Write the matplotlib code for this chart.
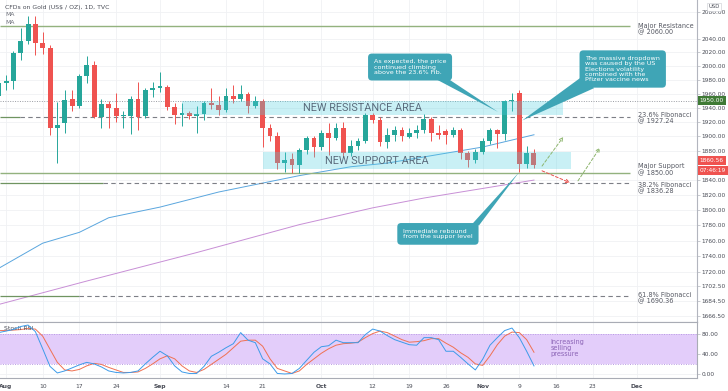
import numpy as np
import pandas as pd
import matplotlib
matplotlib.use("Agg")
import matplotlib.pyplot as plt
from matplotlib.ticker import FixedLocator, FixedFormatter, NullLocator
from matplotlib.patches import Rectangle, Polygon
from matplotlib.transforms import blended_transform_factory

# daily candles, Jul 31 2020 -> Nov 11 2020 (weekdays)
opens = [1957, 1975, 1978, 2019, 2037, 2062, 2034, 2027, 1911, 1918, 1952, 1943, 1985, 2001, 1927,
         1945, 1940, 1928, 1928, 1953, 1928, 1966, 1968, 1970, 1941, 1929, 1932, 1928, 1931, 1946,
         1944, 1937, 1956, 1953, 1959, 1943, 1950, 1912, 1900, 1863, 1868, 1861, 1881, 1897, 1885,
         1904, 1897, 1912, 1877, 1887, 1893, 1930, 1922, 1892, 1902, 1908, 1899, 1905, 1908, 1924,
         1904, 1907, 1901, 1908, 1877, 1867, 1878, 1894, 1908, 1903, 1949, 1961, 1862, 1877]
highs = [1983, 1987, 2022, 2056, 2075, 2075, 2050, 2031, 1948, 1966, 1966, 1988, 2015, 2007, 1953,
         1949, 1961, 1935, 1957, 1977, 1968, 1977, 1992, 1973, 1946, 1946, 1936, 1943, 1949, 1968,
         1956, 1968, 1972, 1973, 1962, 1957, 1953, 1917, 1906, 1878, 1877, 1883, 1900, 1900, 1909,
         1918, 1919, 1920, 1895, 1897, 1933, 1933, 1927, 1912, 1914, 1913, 1912, 1915, 1931, 1927,
         1916, 1910, 1913, 1911, 1880, 1882, 1897, 1911, 1910, 1951, 1961, 1965, 1886, 1882]
lows = [1947, 1966, 1967, 2009, 2032, 2016, 2018, 1902, 1863, 1905, 1936, 1940, 1975, 1925, 1912,
        1912, 1920, 1912, 1903, 1909, 1925, 1955, 1962, 1937, 1917, 1914, 1924, 1904, 1922, 1938,
        1930, 1934, 1947, 1950, 1932, 1940, 1885, 1893, 1855, 1851, 1849, 1849, 1875, 1872, 1881,
        1874, 1895, 1873, 1873, 1881, 1891, 1918, 1887, 1883, 1893, 1894, 1897, 1898, 1904, 1893,
        1896, 1889, 1899, 1869, 1858, 1863, 1876, 1889, 1883, 1895, 1935, 1851, 1856, 1857]
closes = [1975, 1978, 2019, 2037, 2062, 2034, 2027, 1911, 1916, 1951, 1942, 1985, 2001, 1927, 1945,
          1939, 1928, 1930, 1953, 1927, 1966, 1968, 1971, 1941, 1929, 1932, 1928, 1931, 1946, 1944,
          1937, 1956, 1953, 1959, 1943, 1950, 1912, 1900, 1863, 1867, 1861, 1881, 1897, 1885, 1904,
          1897, 1912, 1877, 1887, 1893, 1930, 1922, 1892, 1902, 1908, 1900, 1905, 1908, 1924, 1904,
          1902, 1901, 1908, 1877, 1867, 1878, 1894, 1908, 1903, 1949, 1951, 1862, 1877, 1860.56]

# Stoch RSI (K blue, D orange) for the same bars
stoch_k = [82, 85, 88, 94, 97, 84, 50, 15, 2, 6, 12, 18, 23, 20, 14, 6, 3, 2, 3, 6, 20, 33, 45, 36,
           16, 4, 1, 1, 15, 35, 43, 52, 60, 82, 67, 62, 30, 20, 1, 0, 1, 11, 27, 43, 54, 56, 67, 62,
           62, 62, 78, 89, 85, 76, 68, 63, 58, 57, 72, 72, 68, 45, 45, 33, 20, 8, 29, 57, 72, 86, 91,
           72, 45, 16]
stoch_d = [86, 86, 87, 88, 90, 89, 75, 49, 23, 8, 6, 9, 16, 21, 19, 13, 8, 3, 3, 4, 11, 20, 30, 36,
           30, 16, 6, 3, 9, 19, 29, 39, 52, 65, 67, 67, 55, 30, 11, 6, 1, 6, 19, 30, 41, 50, 57, 60,
           61, 63, 72, 80, 85, 82, 75, 68, 63, 64, 66, 70, 70, 61, 53, 42, 33, 20, 17, 36, 58, 75,
           83, 82, 68, 43]

# moving averages
ma_fast_dates = ["2020-07-31", "2020-08-10", "2020-08-17", "2020-08-21", "2020-09-01", "2020-09-11",
                 "2020-09-28", "2020-10-07", "2020-10-14", "2020-11-02", "2020-11-11"]
ma_fast_vals = [1725, 1757, 1771, 1790, 1804, 1824, 1846, 1858, 1863, 1885, 1902]
ma_slow_dates = ["2020-07-31", "2020-08-18", "2020-09-08", "2020-09-28", "2020-10-12", "2020-10-21",
                 "2020-11-11"]
ma_slow_vals = [1680, 1709, 1745, 1781, 1803, 1816, 1840]

level_vals = [2060.00, 1927.24, 1850.00, 1836.28, 1690.36]
level_names = ["Major Resistance\n@ 2060.00", "23.6% Fibonacci\n@ 1927.24", "Major Support\n@ 1850.00",
               "38.2% Fibonacci\n@ 1836.28", "61.8% Fibonacci\n@ 1690.36"]

price_ticks = [2080, 2040, 2020, 2000, 1980, 1960, 1940, 1920, 1900, 1880, 1840, 1820, 1800, 1780,
               1760, 1740, 1720, 1702.5, 1684.5, 1666.5]
tick_dates = ["2020-08-03", "2020-08-10", "2020-08-17", "2020-08-24", "2020-09-01", "2020-09-14",
              "2020-09-21", "2020-10-01", "2020-10-12", "2020-10-19", "2020-10-26", "2020-11-02",
              "2020-11-09", "2020-11-16", "2020-11-23", "2020-12-01"]
tick_labels = ["Aug", "10", "17", "24", "Sep", "14", "21", "Oct", "12", "19", "26", "Nov", "9", "16",
               "23", "Dec"]

GREEN = "#26a69a"
RED = "#ef5350"
TEAL = "#3fa5b6"
TXT = "#4a4d57"

dates = pd.bdate_range("2020-07-31", "2020-12-11")
pos = np.arange(len(dates)) - 1  # bar 0 = Aug 3


def bar(d):
    return pos[dates.get_loc(pd.Timestamp(d))]


o = np.array(opens, float)
h = np.array(highs, float)
l = np.array(lows, float)
c = np.array(closes, float)
x = pos[:len(o)]

fig = plt.figure(figsize=(7.28, 3.91), dpi=100)
W, H = 728.0, 391.0
ax = fig.add_axes([0, 1 - 322 / H, 697 / W, 322 / H])
ax2 = fig.add_axes([0, 1 - 378 / H, 697 / W, 56 / H])

xmin, xmax = -0.82, 94.23
tick_pos = [bar(d) for d in tick_dates]

# ---- main price panel
ax.set_yscale("log")
ax.set_xlim(xmin, xmax)
ax.set_ylim(1658.6, 2099)
ax.yaxis.set_major_locator(FixedLocator(price_ticks))
ax.yaxis.set_major_formatter(FixedFormatter([f"{t:.2f}" for t in price_ticks]))
ax.yaxis.set_minor_locator(NullLocator())
ax.yaxis.tick_right()
ax.tick_params(axis="y", length=2, width=0.5, color="#b2b5be", pad=1.5, labelsize=4.2, labelcolor=TXT)
ax.set_xticks(tick_pos)
ax.tick_params(axis="x", length=0, labelbottom=False)
ax.grid(True, color="#f0f1f4", lw=0.6)
ax.set_axisbelow(True)
for s in ["top", "left"]:
    ax.spines[s].set_visible(False)
ax.spines["right"].set_color("#b2b5be")
ax.spines["right"].set_linewidth(0.8)
ax.spines["bottom"].set_color("#a9acb5")
ax.spines["bottom"].set_linewidth(0.8)

# moving averages
ax.plot([bar(d) for d in ma_fast_dates], ma_fast_vals, color="#5aa6de", lw=0.7, zorder=2)
ax.plot([bar(d) for d in ma_slow_dates], ma_slow_vals, color="#c88fd6", lw=0.7, zorder=2)

# candles
col = np.where(c >= o, GREEN, RED)
ax.vlines(x, l, h, colors=col, lw=0.7, zorder=3)
ax.bar(x, np.maximum(np.abs(c - o), 0.7), bottom=np.minimum(o, c), width=0.68, color=col,
       linewidth=0, zorder=3)

# horizontal levels
lvl_end = bar("2020-11-30") + 0.1
ax.hlines(level_vals[0], xmin, lvl_end, color="#93b27e", lw=1.0, zorder=2)
ax.hlines(level_vals[2], xmin, lvl_end, color="#93b27e", lw=1.0, zorder=2)
old_ends = [1.9, 13.2, 10.0]
for v, e in zip([level_vals[1], level_vals[3], level_vals[4]], old_ends):
    ax.hlines(v, xmin, e, color="#6f9460", lw=0.9, zorder=2)
    ax.hlines(v, e, lvl_end, color="#7d7f86", lw=0.8, linestyles=(0, (4, 3)), zorder=2)
ax.axhline(1950, color="#9a9ca3", lw=0.7, ls=(0, (1, 1.5)), zorder=2)

offsets = [-2.5, -0.8, 2.2, -3.8, -1.6]
for v, name, dy in zip(level_vals, level_names, offsets):
    ax.annotate(name, (bar("2020-12-01") + 0.2, v), xytext=(0, dy), textcoords="offset points",
                ha="left", va="center", fontsize=4.7, color="#555862", linespacing=1.0)

# zones
ax.add_patch(Rectangle((bar("2020-09-04"), 1930), bar("2020-11-17") - bar("2020-09-04"), 1950 - 1930,
                       facecolor="#4dd0e1", alpha=0.3, edgecolor="none", zorder=4))
ax.add_patch(Rectangle((bar("2020-09-21"), 1855), bar("2020-11-18") - bar("2020-09-21"), 1878 - 1855,
                       facecolor="#4dd0e1", alpha=0.3, edgecolor="none", zorder=4))
ax.text(48.6, 1939, "NEW RESISTANCE AREA", fontsize=7.8, color="#5a6b7c", ha="center", va="center",
        family="Roboto", zorder=5)
ax.text(50.5, 1865.5, "NEW SUPPORT AREA", fontsize=7.8, color="#5a6b7c", ha="center", va="center",
        family="Roboto", zorder=5)

# callouts
def callout(cx, cy, text, wedge):
    ax.add_patch(Polygon(wedge, closed=True, facecolor=TEAL, edgecolor="none", zorder=6))
    ax.text(cx, cy, text, ha="center", va="center", multialignment="left", fontsize=4.6,
            color="white", linespacing=1.05, zorder=7,
            bbox=dict(boxstyle="round,pad=0.9,rounding_size=0.6", facecolor=TEAL, edgecolor="none"))


callout(55.1, 1998.6, "As expected, the price\ncontinued climbing\nabove the 23.6% Fib.",
        [(58.8, 1980), (60.5, 1980), (67.1, 1934)])
callout(84.1, 1995.7, "The massive dropdown\nwas caused by the US\nElections volatility\ncombined with the\nPfizer vaccine news",
        [(78.6, 1985), (80.2, 1968), (70.4, 1922)])
callout(58.9, 1769, "Immediate rebound\nfrom the suppor level",
        [(63.4, 1780), (64.5, 1780), (70.0, 1851)])

# projected paths
ax.annotate("", xy=(76.9, 1836.5), xytext=(73.1, 1852.5),
            arrowprops=dict(arrowstyle="->", color="#e8504d", lw=0.7, ls=(0, (3, 2)),
                            mutation_scale=6, shrinkA=0, shrinkB=0), zorder=5)
ax.annotate("", xy=(76.0, 1899), xytext=(73.1, 1859),
            arrowprops=dict(arrowstyle="->", color="#8db56d", lw=0.7, ls=(0, (3, 2)),
                            mutation_scale=6, shrinkA=0, shrinkB=0), zorder=5)
ax.annotate("", xy=(81.0, 1884), xytext=(78.0, 1839),
            arrowprops=dict(arrowstyle="->", color="#8db56d", lw=0.7, ls=(0, (3, 2)),
                            mutation_scale=6, shrinkA=0, shrinkB=0), zorder=5)

# price labels on the axis
tr = blended_transform_factory(ax.transAxes, ax.transData)
ax.text(1.004, 1950, "1950.00", transform=tr, ha="left", va="center", fontsize=4.2, color="white",
        clip_on=False, bbox=dict(boxstyle="square,pad=0.35", facecolor="#3f7a35", edgecolor="none"))
ax.text(1.004, 1866.5, "1860.56", transform=tr, ha="left", va="center", fontsize=4.2, color="white",
        clip_on=False, bbox=dict(boxstyle="square,pad=0.35", facecolor=RED, edgecolor="none"))
ax.text(1.004, 1852.5, "07:46:19", transform=tr, ha="left", va="center", fontsize=4.2, color="white",
        clip_on=False, bbox=dict(boxstyle="square,pad=0.35", facecolor=RED, edgecolor="none"))
fig.text(714 / W, 1 - 7 / H, "USD", fontsize=3.8, color=TXT, ha="center", va="center",
         bbox=dict(boxstyle="square,pad=0.3", facecolor="white", edgecolor="#c8cad0", lw=0.4))

# header
fig.text(5 / W, 1 - 7 / H, "CFDs on Gold (US$ / OZ), 1D, TVC", fontsize=4.4, color=TXT, va="center")
fig.text(5 / W, 1 - 15 / H, "MA", fontsize=4.4, color="#6c6f78", va="center")
fig.text(5 / W, 1 - 23 / H, "MA", fontsize=4.4, color="#6c6f78", va="center")

# ---- Stoch RSI panel
ax2.set_xlim(xmin, xmax)
ax2.set_ylim(-8, 103)
ax2.axhspan(20, 80, facecolor="#e3cdfa", edgecolor="none", zorder=1)
ax2.axhline(80, color="#b99be3", lw=0.7, ls=(0, (1, 1.5)), zorder=2)
ax2.axhline(20, color="#b99be3", lw=0.7, ls=(0, (1, 1.5)), zorder=2)
ax2.plot(x, stoch_d, color="#f07152", lw=0.7, zorder=3)
ax2.plot(x, stoch_k, color="#3d9be9", lw=0.7, zorder=4)
ax2.yaxis.tick_right()
ax2.set_yticks([80, 40, 0])
ax2.set_yticklabels(["80.00", "40.00", "0.00"])
ax2.tick_params(axis="y", length=2, width=0.5, color="#b2b5be", pad=1.5, labelsize=4.2, labelcolor=TXT)
ax2.set_xticks(tick_pos)
ax2.set_xticklabels(tick_labels)
ax2.tick_params(axis="x", length=0, labelsize=4.3, labelcolor=TXT, pad=4)
for lab in ax2.get_xticklabels():
    if not lab.get_text().isdigit():
        lab.set_fontweight("bold")
ax2.grid(True, color="#f0f1f4", lw=0.6)
ax2.set_axisbelow(True)
for s in ["left"]:
    ax2.spines[s].set_visible(False)
for s in ["top", "right", "bottom"]:
    ax2.spines[s].set_color("#a9acb5")
    ax2.spines[s].set_linewidth(0.8)
ax2.text(0.006, 0.93, "Stoch RSI", transform=ax2.transAxes, fontsize=4.4, color=TXT, va="top")
ax2.text(bar("2020-11-13") + 0.3, 51, "Increasing\nselling\npressure", fontsize=4.7, color="#8a62b5",
         ha="left", va="center", linespacing=1.0)

fig.savefig("out.png", dpi=100)
